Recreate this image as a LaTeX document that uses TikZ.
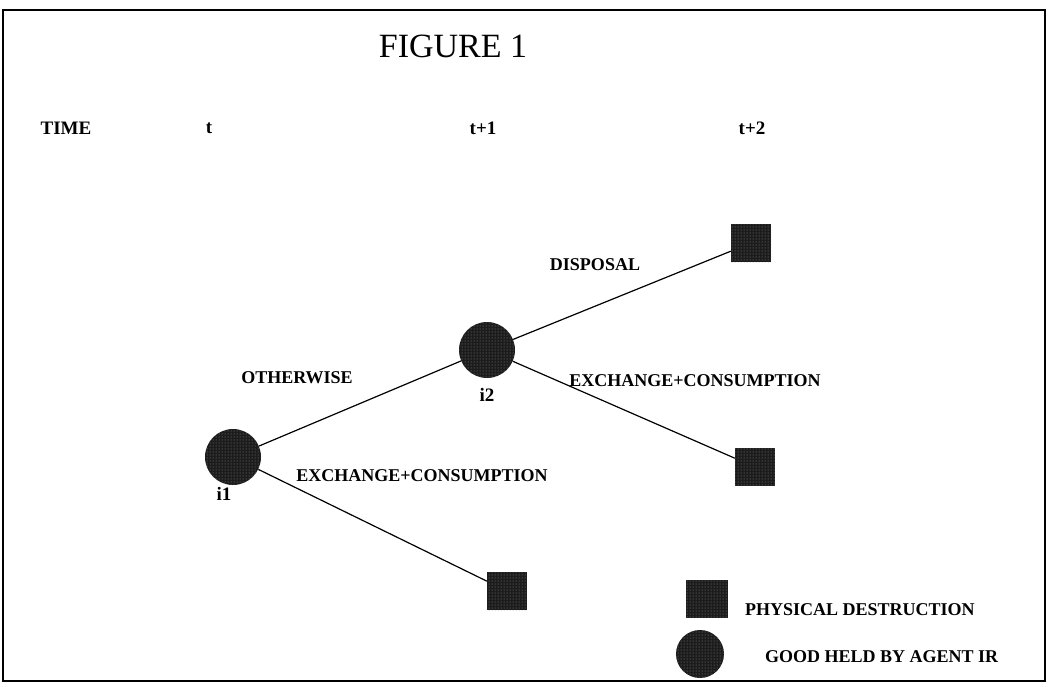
\documentclass[tikz,border=0pt]{standalone}
\usepackage{fontspec}
\setmainfont{Liberation Serif}
\usetikzlibrary{positioning,patterns}
\definecolor{gdark}{HTML}{1C1C1C}
\definecolor{gdot}{HTML}{8A8A8A}
\tikzset{
  good/.style={circle,fill=gdark,minimum size=56pt,inner sep=0,postaction={pattern=dots,pattern color=gdot}},
  dest/.style={rectangle,fill=gdark,minimum width=40pt,minimum height=38pt,inner sep=0,postaction={pattern=dots,pattern color=gdot}},
  lbl/.style={font=\fontsize{18}{20}\selectfont\bfseries,inner sep=0},
  tlbl/.style={font=\fontsize{19}{21}\selectfont\bfseries,inner sep=0},
  link/.style={line width=1.2pt,draw=black},
}
\begin{document}
\begin{tikzpicture}[x=1pt,y=-1pt]
  \useasboundingbox (0,0) rectangle (1050,686);
  \draw[line width=1.6pt] (3,10) rectangle (1045,681);
  \node[font=\fontsize{34}{36}\selectfont,inner sep=0] (title) at (453,46) {FIGURE 1};
  % time axis
  \node[tlbl] (time) at (66,128) {TIME};
  \node[tlbl] (t0) at (209,128) {t};
  \node[tlbl] (t1) at (483,128) {t+1};
  \node[tlbl] (t2) at (752,128) {t+2};
  % tree
  \node[good] (i1) at (233,457) {};
  \node[good] (i2) at (487,350) {};
  \node[dest] (d1) at (751,243) {};
  \node[dest] (d2) at (755,467) {};
  \node[dest] (d3) at (507,591) {};
  \node[tlbl,below=2pt of i1,xshift=-9pt] (i1lab) {i1};
  \node[tlbl,below=10pt of i2] (i2lab) {i2};
  \draw[link] (i1) -- (i2);
  \draw[link] (i1) -- (d3);
  \draw[link] (i2) -- (d1);
  \draw[link] (i2) -- (d2);
  \node[lbl] (other) at (297,378) {OTHERWISE};
  \node[lbl] (disp) at (595,265) {DISPOSAL};
  \node[lbl] (exch2) at (695,381) {EXCHANGE+CONSUMPTION};
  \node[lbl] (exch1) at (422,476) {EXCHANGE+CONSUMPTION};
  % legend
  \node[dest,minimum width=42pt,minimum height=38pt] (legd) at (707,599) {};
  \node[good,minimum size=48pt] (legg) at (700,654) {};
  \node[lbl,anchor=west] (legdt) at (745,610) {PHYSICAL DESTRUCTION};
  \node[lbl,anchor=west] (leggt) at (765,657) {GOOD HELD BY AGENT IR};
\end{tikzpicture}
\end{document}
